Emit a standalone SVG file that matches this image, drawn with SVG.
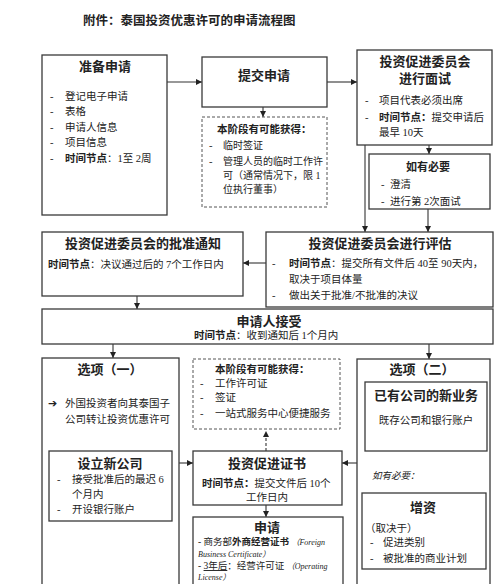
<svg xmlns="http://www.w3.org/2000/svg" width="500" height="584" viewBox="0 0 500 584">
<style>
.b{fill:#fff;stroke:#3a3a3a;stroke-width:1.3}
.d{fill:#fff;stroke:#555;stroke-width:1;stroke-dasharray:3 2}
.t{font-family:"Liberation Serif","Noto Sans CJK SC",serif;font-size:10.5px;fill:#222}
.h{font-weight:bold;font-size:13px}
.c{text-anchor:middle}
.k{font-weight:bold}
.i{font-style:italic;font-size:8px}
.ln{stroke:#333;stroke-width:1.1;fill:none}
</style>
<defs>
<marker id="a" markerWidth="6" markerHeight="6" refX="6" refY="3" orient="auto" markerUnits="userSpaceOnUse">
<path d="M0,0 L6,3 L0,6 z" fill="#222"/>
</marker>
</defs>
<rect width="500" height="584" fill="#fff"/>
<text class="t k" x="83" y="25" style="font-size:12.5px">附件：泰国投资优惠许可的申请流程图</text>

<g id="connectors">
<line class="ln" x1="167" y1="82" x2="202" y2="82" marker-end="url(#a)"/>
<line class="ln" x1="327" y1="82" x2="357" y2="82" marker-end="url(#a)"/>
<line class="ln" x1="263" y1="107" x2="263" y2="117" marker-end="url(#a)"/>
<line class="ln" x1="429" y1="145" x2="429" y2="154" marker-end="url(#a)"/>
<line class="ln" x1="365" y1="145" x2="365" y2="232" marker-end="url(#a)"/>
<line class="ln" x1="428" y1="209" x2="428" y2="232" marker-end="url(#a)"/>
<line class="ln" x1="266" y1="263" x2="243" y2="263" marker-end="url(#a)"/>
<line class="ln" x1="137" y1="296" x2="137" y2="309" marker-end="url(#a)"/>
<line class="ln" x1="113" y1="344" x2="113" y2="358" marker-end="url(#a)"/>
<line class="ln" x1="429" y1="344" x2="429" y2="359" marker-end="url(#a)"/>
<line class="ln" x1="179" y1="463" x2="193" y2="463" marker-end="url(#a)"/>
<line class="ln" x1="357" y1="463" x2="342" y2="463" marker-end="url(#a)"/>
<line class="ln" x1="266" y1="451" x2="266" y2="431" stroke-dasharray="3 2" marker-end="url(#a)"/>
<line class="ln" x1="266" y1="505" x2="266" y2="517" marker-end="url(#a)"/>
</g>

<g id="prepare">
<rect class="b" x="42" y="55" width="125" height="160"/>
<text class="t h c" x="105" y="71">准备申请</text>
<text class="t" x="50" y="100">-</text><text class="t" x="65" y="100">登记电子申请</text>
<text class="t" x="50" y="115">-</text><text class="t" x="65" y="115">表格</text>
<text class="t" x="50" y="131">-</text><text class="t" x="65" y="131">申请人信息</text>
<text class="t" x="50" y="146">-</text><text class="t" x="65" y="146">项目信息</text>
<text class="t" x="50" y="162">-</text><text class="t" x="65" y="162"><tspan class="k">时间节点</tspan>：1至 2周</text>
</g>

<g id="submit">
<rect class="b" x="202" y="57" width="125" height="50"/>
<text class="t h c" x="264" y="80">提交申请</text>
</g>

<g id="possible1">
<rect class="d" x="202" y="117" width="125" height="90"/>
<text class="t k" x="217" y="133">本阶段有可能获得：</text>
<text class="t" x="209" y="149">-</text><text class="t" x="223" y="149" style="font-size:10px">临时签证</text>
<text class="t" x="209" y="165">-</text><text class="t" x="223" y="165" style="font-size:10px">管理人员的临时工作许</text>
<text class="t" x="223" y="179" style="font-size:10px">可（通常情况下，限 1</text>
<text class="t" x="223" y="193" style="font-size:10px">位执行董事）</text>
</g>

<g id="interview">
<rect class="b" x="357" y="50" width="135" height="95"/>
<text class="t h c" x="425" y="66">投资促进委员会</text>
<text class="t h c" x="425" y="83">进行面试</text>
<text class="t" x="365" y="104">-</text><text class="t" x="379" y="104">项目代表必须出席</text>
<text class="t" x="365" y="121">-</text><text class="t" x="379" y="121"><tspan class="k">时间节点：</tspan>提交申请后</text>
<text class="t" x="379" y="136">最早 10天</text>
</g>

<g id="ifneeded1">
<rect class="b" x="369" y="154" width="121" height="55"/>
<text class="t k c" x="428" y="171" style="font-size:11px">如有必要</text>
<text class="t" x="381" y="188">-</text><text class="t" x="390" y="188">澄清</text>
<text class="t" x="381" y="205">-</text><text class="t" x="390" y="205">进行第 2次面试</text>
</g>

<g id="evaluate">
<rect class="b" x="266" y="232" width="227" height="75"/>
<text class="t h c" x="380" y="248">投资促进委员会进行评估</text>
<text class="t" x="272" y="267">-</text><text class="t" x="289" y="267"><tspan class="k">时间节点</tspan>：提交所有文件后 40至 90天内，</text>
<text class="t" x="289" y="283">取决于项目体量</text>
<text class="t" x="272" y="299">-</text><text class="t" x="289" y="299">做出关于批准/不批准的决议</text>
</g>

<g id="approval">
<rect class="b" x="42" y="232" width="201" height="64"/>
<text class="t h c" x="143" y="248">投资促进委员会的批准通知</text>
<text class="t" x="48" y="268"><tspan class="k">时间节点</tspan>：决议通过后的 7个工作日内</text>
</g>

<g id="accept">
<rect class="b" x="42" y="309" width="451" height="35"/>
<text class="t h c" x="269" y="326">申请人接受</text>
<text class="t" x="194" y="339"><tspan class="k">时间节点</tspan>：收到通知后 1个月内</text>
</g>

<g id="option1">
<rect class="b" x="42" y="358" width="137" height="240"/>
<text class="t h c" x="110" y="374">选项（一）</text>
<text class="t" x="48" y="407">➔</text><text class="t" x="65" y="407">外国投资者向其泰国子</text>
<text class="t" x="65" y="423">公司转让投资优惠许可</text>
</g>

<g id="newco">
<rect class="b" x="49" y="451" width="123" height="70"/>
<text class="t h c" x="110" y="468">设立新公司</text>
<text class="t" x="57" y="483">-</text><text class="t" x="72" y="483">接受批准后的最迟 6</text>
<text class="t" x="72" y="498">个月内</text>
<text class="t" x="57" y="513">-</text><text class="t" x="72" y="513">开设银行账户</text>
</g>

<g id="possible2">
<rect class="d" x="193" y="359" width="147" height="70"/>
<text class="t k" x="215" y="373">本阶段有可能获得：</text>
<text class="t" x="200" y="387">-</text><text class="t" x="215" y="387">工作许可证</text>
<text class="t" x="200" y="401">-</text><text class="t" x="215" y="401">签证</text>
<text class="t" x="200" y="417">-</text><text class="t" x="215" y="417">一站式服务中心便捷服务</text>
</g>

<g id="certificate">
<rect class="b" x="193" y="451" width="149" height="54"/>
<text class="t h c" x="267" y="468">投资促进证书</text>
<text class="t" x="202" y="487"><tspan class="k">时间节点：</tspan>提交文件后 10个</text>
<text class="t c" x="267" y="501">工作日内</text>
</g>

<g id="apply">
<rect class="b" x="193" y="517" width="150" height="80"/>
<text class="t h c" x="267" y="532">申请</text>
<text class="t" x="198" y="545" style="font-size:9.5px">- 商务部<tspan class="k">外商经营证书</tspan> <tspan class="i">（Foreign</tspan></text>
<text class="t i" x="198" y="557">Business Certificate）</text>
<text class="t" x="198" y="569" style="font-size:9.5px">- <tspan text-decoration="underline">3年后</tspan>：经营许可证 <tspan class="i">（Operating</tspan></text>
<text class="t i" x="198" y="580">License）</text>
</g>

<g id="option2">
<rect class="b" x="357" y="359" width="133" height="240"/>
<text class="t h c" x="422" y="374">选项（二）</text>
<text class="t" x="372" y="479" style="font-style:italic;font-size:9.5px">如有必要：</text>
</g>

<g id="existing">
<rect class="b" x="365" y="382" width="122" height="69"/>
<text class="t h c" x="426" y="400">已有公司的新业务</text>
<text class="t c" x="426" y="424">既存公司和银行账户</text>
</g>

<g id="capital">
<rect class="b" x="362" y="493" width="124" height="76"/>
<text class="t h c" x="423" y="512">增资</text>
<text class="t" x="365" y="532">（取决于）</text>
<text class="t" x="370" y="546">-</text><text class="t" x="383" y="546">促进类别</text>
<text class="t" x="370" y="562">-</text><text class="t" x="383" y="562">被批准的商业计划</text>
</g>
</svg>
